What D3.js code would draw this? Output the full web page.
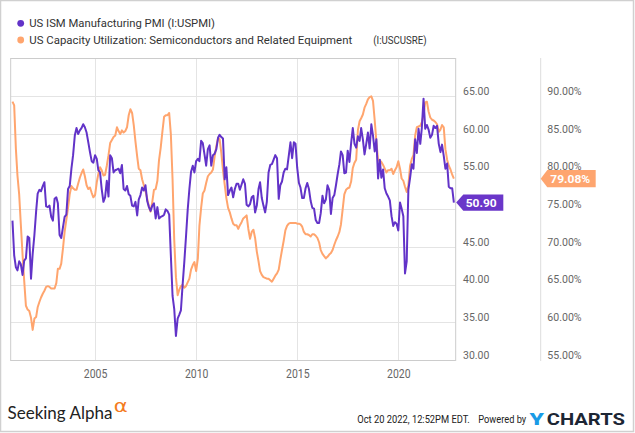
<!DOCTYPE html>
<html>
<head>
<meta charset="utf-8">
<script src="https://cdn.jsdelivr.net/npm/d3@7"></script>
<style>
  body { margin: 0; background: #fff; }
  svg { display: block; }
  text { font-family: Roboto, "Noto Sans", "DejaVu Sans", sans-serif; }
</style>
</head>
<body>
<svg id="chart" width="635" height="433"></svg>
<script>
// ---------------- DATA ----------------
// first observation: November 2000, monthly, last: September 2022
const firstYear = 2000;
const firstMonth = 10; // 0-based -> November

// US ISM Manufacturing PMI
const pmiValues = [
  48.5, 43.9,
  42.3, 41.9, 43.1, 42.7, 41.3, 43.2, 43.5, 46.4, 46.2, 40.8, 44.1, 46.6,
  49.7, 52.1, 52.6, 52.4, 53.1, 53.6, 50.4, 50.3, 50.5, 49.0, 48.5, 51.4,
  51.6, 50.8, 46.6, 46.2, 47.6, 49.0, 49.3, 52.7, 53.1, 55.4, 57.2, 59.8,
  60.8, 60.0, 60.5, 60.8, 61.3, 60.9, 60.2, 58.9, 57.6, 56.4, 56.2, 57.2,
  56.7, 55.2, 54.9, 52.7, 51.0, 51.6, 53.8, 51.7, 57.2, 56.8, 54.9, 55.2,
  55.3, 55.4, 54.8, 55.9, 52.7, 52.5, 53.1, 52.0, 51.8, 50.5, 50.4, 51.0,
  49.2, 51.3, 51.9, 52.9, 52.5, 53.2, 51.1, 50.3, 49.8, 50.5, 50.8, 48.8,
  50.3, 48.8, 49.0, 49.1, 49.3, 50.0, 49.8, 49.3, 43.9, 38.5, 36.8, 33.2,
  35.5, 36.0, 36.6, 39.9, 43.0, 46.3, 49.9, 52.7, 55.0, 55.8, 54.9, 56.4,
  56.7, 56.4, 59.1, 58.8, 57.3, 55.8, 58.0, 58.5, 55.8, 57.2, 57.4, 58.0,
  59.5, 59.9, 59.6, 59.4, 54.0, 55.6, 51.9, 52.5, 52.9, 51.6, 52.7, 53.4,
  53.4, 52.6, 53.3, 54.0, 53.4, 50.6, 50.4, 50.7, 51.6, 51.8, 49.6, 50.5,
  52.7, 53.6, 51.5, 50.5, 49.6, 51.0, 54.9, 55.9, 56.0, 56.6, 57.2, 56.8,
  51.4, 53.2, 53.7, 54.9, 55.4, 55.3, 57.1, 58.9, 56.8, 58.9, 58.7, 55.5,
  53.5, 52.9, 51.5, 51.5, 52.8, 53.5, 52.7, 51.1, 50.2, 50.1, 48.6, 48.2,
  48.2, 49.5, 51.8, 50.8, 51.3, 53.2, 52.6, 49.4, 51.5, 51.9, 53.2, 54.7,
  56.0, 57.7, 57.2, 54.8, 54.9, 57.8, 56.3, 58.8, 60.8, 58.7, 58.2, 59.7,
  59.1, 60.8, 59.3, 57.3, 58.7, 60.2, 58.1, 61.3, 59.8, 57.7, 59.3, 54.1,
  56.6, 54.2, 55.3, 52.8, 52.1, 51.7, 51.2, 49.1, 47.8, 48.3, 48.1, 47.2,
  50.9, 50.1, 49.1, 41.5, 43.1, 52.6, 54.2, 56.0, 55.4, 59.3, 57.5, 60.7,
  58.7, 60.8, 64.7, 60.7, 61.2, 60.6, 59.5, 59.9, 61.1, 60.8, 61.1, 58.7,
  57.6, 58.6, 57.1, 55.4, 56.1, 53.0, 52.8, 52.8, 50.9
];

// US Capacity Utilization: Semiconductors and Related Equipment (%)
const capValues = [
  89.3, 88.8, 83.0, 79.5, 77.0, 73.0, 69.0, 65.5, 62.2, 61.7, 61.5, 60.6,
  59.0, 60.5, 60.7, 62.0, 62.7, 63.3, 63.8, 64.2, 64.7, 64.8, 64.7, 64.5,
  64.5, 64.5, 65.2, 67.1, 67.1, 67.8, 69.8, 72.0, 73.6, 75.2, 77.0, 78.1,
  77.8, 77.6, 77.6, 78.4, 79.2, 79.8, 80.3, 79.4, 78.2, 77.7, 77.9, 77.2,
  76.6, 76.9, 78.6, 79.7, 80.6, 80.2, 79.5, 79.6, 80.8, 82.2, 83.8, 84.2,
  84.6, 84.8, 85.9, 85.4, 85.0, 85.5, 85.2, 85.4, 85.9, 87.5, 88.3, 87.8,
  86.2, 84.0, 82.0, 80.4, 80.2, 79.0, 78.2, 77.4, 76.4, 75.4, 74.7, 76.0,
  77.6, 77.7, 78.8, 81.5, 83.2, 85.3, 87.3, 87.5, 87.5, 87.8, 85.0, 79.0,
  71.0, 66.0, 63.6, 64.3, 64.8, 65.0, 64.6, 64.8, 65.3, 65.8, 67.0, 67.6,
  68.0, 66.8, 68.5, 72.8, 75.2, 77.1, 77.5, 78.5, 79.4, 79.7, 79.9, 80.3,
  82.0, 83.4, 84.5, 84.3, 82.5, 80.2, 78.3, 76.5, 75.2, 74.6, 73.8, 73.1,
  72.9, 72.9, 72.4, 72.9, 73.3, 73.8, 74.0, 74.2, 72.4, 71.1, 72.0, 72.3,
  71.2, 69.4, 68.1, 66.8, 66.3, 66.0, 65.9, 65.8, 65.8, 65.6, 65.4, 65.8,
  66.2, 66.5, 67.0, 68.3, 69.6, 70.8, 72.2, 72.8, 73.1, 73.2, 73.2, 73.2,
  73.2, 73.1, 73.1, 73.0, 72.7, 72.0, 71.7, 71.7, 71.6, 71.4, 71.7, 71.7,
  71.5, 71.2, 70.6, 69.6, 69.1, 68.8, 68.5, 68.7, 69.0, 69.2, 69.6, 70.3,
  70.9, 71.4, 72.0, 73.0, 75.0, 77.0, 77.6, 77.8, 77.9, 78.7, 80.5, 81.2,
  81.6, 85.5, 86.7, 87.1, 87.6, 88.5, 89.0, 89.6, 89.9, 90.0, 89.4, 86.8,
  84.0, 81.5, 81.5, 81.3, 80.9, 80.4, 79.9, 80.2, 80.2, 80.4, 79.7, 80.2,
  80.6, 81.4, 80.4, 79.1, 78.8, 78.0, 77.3, 78.2, 80.8, 81.7, 82.2, 84.8,
  85.9, 86.0, 86.1, 86.6, 87.5, 89.2, 89.3, 88.0, 87.2, 86.9, 86.8, 86.6,
  86.3, 85.3, 85.6, 86.2, 85.9, 83.0, 81.6, 80.8, 80.3, 79.6, 79.08
];

const yearTicks = [2005, 2010, 2015, 2020];
const pmiTicks = [30, 35, 40, 45, 50, 55, 60, 65];
const capTicks = [55, 60, 65, 70, 75, 80, 85, 90];
const legendNames = [
  "US ISM Manufacturing PMI (I:USPMI)",
  "US Capacity Utilization: Semiconductors and Related Equipment",
  "(I:USCUSRE)"
];
const lastLabels = ["50.90", "79.08%"];

// ---------------- STYLE / LAYOUT ----------------
const purple = "#6233c8";
const orange = "#ffa56e";
const gridColor = "#e4e4e4";
const borderColor = "#cccccc";
const labelColor = "#666666";

const plot = { left: 10.7, right: 455.7, top: 58, bottom: 360 };
const sepX = 540.7;

const svg = d3.select("#chart");
svg.append("rect").attr("width", 635).attr("height", 433).attr("fill", "#fff");

// helper: place a text so that it spans exactly `width` px from x, baseline y
function fitText(sel, x, y, width) {
  sel.attr("x", 0).attr("y", 0);
  const natural = sel.node().getComputedTextLength() || width;
  sel.attr("transform", `translate(${x},${y}) scale(${width / natural},1)`);
  return sel;
}

// dates (month end)
const dates = pmiValues.map((_, i) => new Date(firstYear, firstMonth + i + 1, 0));
const pmiData = pmiValues.map((v, i) => ({ d: dates[i], v }));
const capData = capValues.map((v, i) => ({ d: dates[i], v }));

// scales
const x = d3.scaleTime()
  .domain([new Date(2000, 9, 29), new Date(2022, 10, 2)])
  .range([plot.left, plot.right]);
const yL = d3.scaleLinear().domain([30, 70.1]).range([plot.bottom, plot.top]);
const yR = d3.scaleLinear().domain([55, 95.1]).range([plot.bottom, plot.top]);

// gridlines
const grid = svg.append("g");
grid.selectAll("line.h").data(pmiTicks.filter(t => t > 30)).join("line")
  .attr("x1", plot.left).attr("x2", plot.right)
  .attr("y1", d => Math.round(yL(d)) + 0.5).attr("y2", d => Math.round(yL(d)) + 0.5)
  .attr("stroke", gridColor).attr("stroke-width", 1);
grid.selectAll("line.v").data(yearTicks).join("line")
  .attr("x1", d => Math.round(x(new Date(d, 0, 1))) + 0.5)
  .attr("x2", d => Math.round(x(new Date(d, 0, 1))) + 0.5)
  .attr("y1", plot.top).attr("y2", plot.bottom)
  .attr("stroke", gridColor).attr("stroke-width", 1);

// borders
const b = svg.append("g").attr("stroke", borderColor).attr("stroke-width", 1).attr("fill", "none");
b.append("line").attr("x1", plot.left).attr("x2", plot.right).attr("y1", plot.top + 0.5).attr("y2", plot.top + 0.5);
b.append("line").attr("x1", plot.left).attr("x2", plot.right).attr("y1", plot.bottom + 0.5).attr("y2", plot.bottom + 0.5);
b.append("line").attr("x1", plot.left).attr("x2", plot.left).attr("y1", plot.top).attr("y2", plot.bottom + 1);
b.append("line").attr("x1", plot.right).attr("x2", plot.right).attr("y1", plot.top).attr("y2", plot.bottom + 1);
b.append("line").attr("x1", sepX).attr("x2", sepX).attr("y1", plot.top).attr("y2", plot.bottom + 1).attr("stroke", "#dddddd");

// clip
svg.append("clipPath").attr("id", "clip").append("rect")
  .attr("x", plot.left).attr("y", plot.top - 2)
  .attr("width", plot.right - plot.left + 1).attr("height", plot.bottom - plot.top + 4);

// lines
const lineL = d3.line().x(d => x(d.d)).y(d => yL(d.v));
const lineR = d3.line().x(d => x(d.d)).y(d => yR(d.v));
const lines = svg.append("g").attr("clip-path", "url(#clip)");
lines.append("path").datum(capData).attr("d", lineR)
  .attr("fill", "none").attr("stroke", orange).attr("stroke-width", 2)
  .attr("stroke-linejoin", "round");
lines.append("path").datum(pmiData).attr("d", lineL)
  .attr("fill", "none").attr("stroke", purple).attr("stroke-width", 2)
  .attr("stroke-linejoin", "round");

// axes
const xAxis = d3.axisBottom(x)
  .tickValues(yearTicks.map(y => new Date(y, 0, 1)))
  .tickFormat(d3.timeFormat("%Y"))
  .tickSize(0);
svg.append("g").attr("transform", `translate(0,${plot.bottom})`).call(xAxis)
  .call(g => g.select(".domain").remove())
  .call(g => g.selectAll("text")
    .attr("y", 18).attr("dy", null)
    .attr("fill", labelColor)
    .style("font-size", "13px")
    .attr("textLength", 23.5).attr("lengthAdjust", "spacingAndGlyphs"));

const lastPmi = pmiValues[pmiValues.length - 1];
const lastCap = capValues[capValues.length - 1];

// the left value axis label that sits under the last-value badge is hidden in the original
const axisL = d3.axisRight(yL)
  .tickValues(pmiTicks.filter(t => Math.abs(yL(t) - 2 - yL(lastPmi)) > 10))
  .tickFormat(d3.format(".2f")).tickSize(0);
svg.append("g").attr("transform", `translate(${plot.right},0)`).call(axisL)
  .call(g => g.select(".domain").remove())
  .call(g => g.selectAll("text")
    .attr("x", 7.3).attr("y", -2).attr("dy", null)
    .attr("fill", labelColor)
    .style("font-size", "11.3px")
    .attr("textLength", 26.3).attr("lengthAdjust", "spacingAndGlyphs"));

const axisR = d3.axisRight(yR).tickValues(capTicks).tickFormat(d => d3.format(".2f")(d) + "%").tickSize(0);
svg.append("g").attr("transform", `translate(${sepX},0)`).call(axisR)
  .call(g => g.select(".domain").remove())
  .call(g => g.selectAll("text")
    .attr("x", 6.6).attr("y", -2).attr("dy", null)
    .attr("fill", labelColor)
    .style("font-size", "11.3px")
    .attr("textLength", 34.3).attr("lengthAdjust", "spacingAndGlyphs"));

// last value badges
function badge(tipX, boxL, boxR, y, half, color, label, textX, textLen) {
  const g = svg.append("g");
  g.append("path")
    .attr("d", `M${tipX},${y} L${boxL},${y - half} L${boxR},${y - half} L${boxR},${y + half} L${boxL},${y + half} Z`)
    .attr("fill", color);
  const t = g.append("text")
    .attr("fill", "#fff").style("font-size", "11px").style("font-weight", "700")
    .text(label);
  fitText(t, textX, y + 4, textLen);
}
badge(plot.right + 0.5, 463.3, 503.3, yL(lastPmi), 8.2, "#6a36c9", lastLabels[0], 465.7, 31);
badge(sepX, 547.3, 595.7, yR(lastCap), 8.6, "#fea56f", lastLabels[1], 550.3, 40);

// legend
const legend = svg.append("g");
legend.append("circle").attr("cx", 20.7).attr("cy", 23.3).attr("r", 3.4).attr("fill", purple);
legend.append("circle").attr("cx", 20.7).attr("cy", 40).attr("r", 3.4).attr("fill", orange);
fitText(legend.append("text").attr("fill", "#333").style("font-size", "11.5px").text(legendNames[0]),
  29.3, 27.3, 186);
fitText(legend.append("text").attr("fill", "#333").style("font-size", "11.5px").text(legendNames[1]),
  29.3, 44, 323.4);
fitText(legend.append("text").attr("fill", "#333").style("font-size", "11.5px").text(legendNames[2]),
  373.3, 44, 53.4);

// footer
fitText(svg.append("text").attr("fill", "#222")
  .style("font-family", "Lato, 'Open Sans', sans-serif").style("font-size", "17px")
  .text("Seeking Alpha"), 7.5, 419.3, 105);
fitText(svg.append("text").attr("fill", "#f47b20")
  .style("font-family", "'DejaVu Sans', sans-serif").style("font-size", "17px")
  .text("α"), 113.8, 411.5, 14);

fitText(svg.append("text").attr("fill", "#222").style("font-size", "11px")
  .text("Oct 20 2022, 12:52PM EDT."), 357.3, 423.3, 112.7);
fitText(svg.append("text").attr("fill", "#222").style("font-size", "11px")
  .text("Powered by"), 478.3, 423.3, 48);
fitText(svg.append("text").attr("fill", "#1a9be6")
  .style("font-size", "16.5px").style("font-weight", "900")
  .text("Y"), 529.5, 425, 14.5);
fitText(svg.append("text").attr("fill", "#1c2634")
  .style("font-size", "16.5px").style("font-weight", "700")
  .text("CHARTS"), 546.7, 425, 78.3);

// outer frame
svg.append("rect").attr("x", 0.5).attr("y", 0.5).attr("width", 633).attr("height", 431)
  .attr("fill", "none").attr("stroke", "#d0d0d0").attr("stroke-width", 1.5);
</script>
</body>
</html>
